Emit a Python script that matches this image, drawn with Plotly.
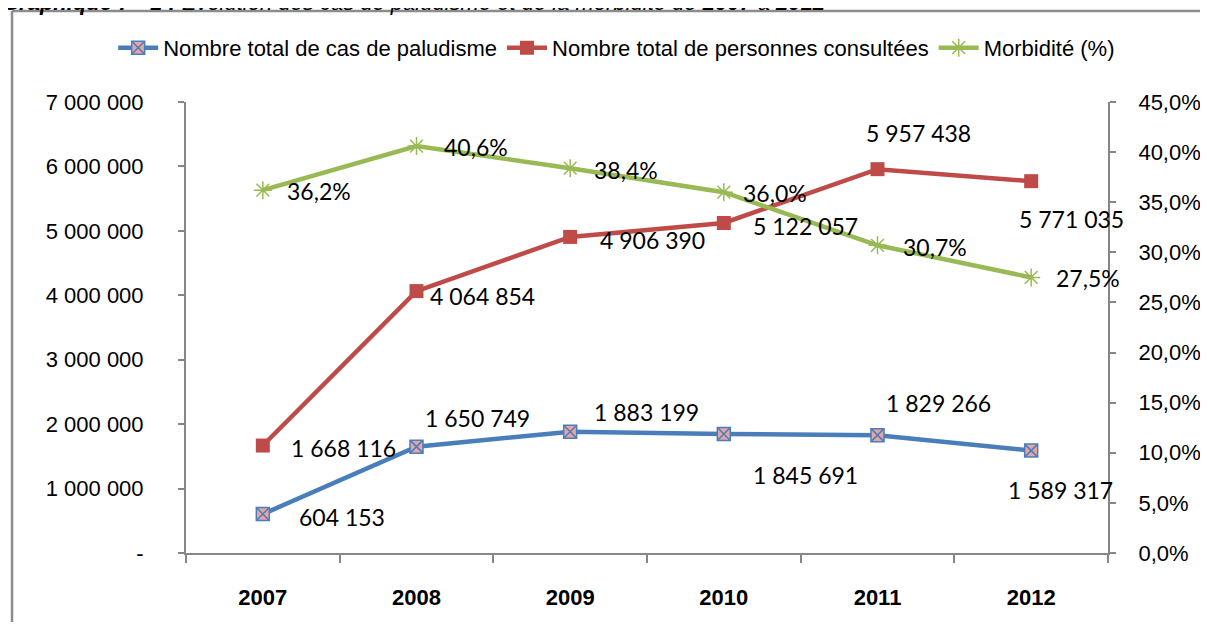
import plotly.graph_objects as go

years = ["2007", "2008", "2009", "2010", "2011", "2012"]
cas_paludisme = [604153, 1650749, 1883199, 1845691, 1829266, 1589317]
personnes_consultees = [1668116, 4064854, 4906390, 5122057, 5957438, 5771035]
morbidite = [36.2, 40.6, 38.4, 36.0, 30.7, 27.5]

left_ticks = [0, 1000000, 2000000, 3000000, 4000000, 5000000, 6000000, 7000000]
right_ticks = [0, 5, 10, 15, 20, 25, 30, 35, 40, 45]

# label offsets (pixels) for each data label
blue_off = [(79, -3), (61, 29), (76, 20), (82, -41), (61, 32), (29, -39)]
red_off = [(81, -2), (66, -5), (82, -3), (82, -3), (41, 36), (40, -38)]
green_off = [(56, -1), (59, -1), (56, -2), (51, -1), (57, -2), (57, -1)]

BLUE = "#4A7EBB"
RED = "#BE4B48"
GREEN = "#98B954"
AXIS = "#868686"
SANS = "Liberation Sans, Arial, sans-serif"
LABEL_FONT = "Lato, Carlito, Calibri, sans-serif"


def fmt_num(v):
    return "-" if v == 0 else f"{v:,}".replace(",", " ")


def fmt_pct(v):
    return f"{v:.1f}%".replace(".", ",")


fig = go.Figure()
fig.add_trace(go.Scatter(
    x=years, y=cas_paludisme, name="Nombre total de cas de paludisme",
    mode="lines+markers", line=dict(color=BLUE, width=4.5),
    marker=dict(symbol="square-x", size=13, color="#E6A5A3",
                line=dict(color=BLUE, width=1.5)),
))
fig.add_trace(go.Scatter(
    x=years, y=personnes_consultees, name="Nombre total de personnes consultées",
    mode="lines+markers", line=dict(color=RED, width=4.5),
    marker=dict(symbol="square", size=14, color=RED),
))
fig.add_trace(go.Scatter(
    x=years, y=morbidite, name="Morbidité (%)", yaxis="y2",
    mode="lines+markers", line=dict(color=GREEN, width=4.5),
    marker=dict(symbol="asterisk-open", size=15, color=GREEN,
                line=dict(color=GREEN, width=1.5)),
))

annotations = []
lab_font = dict(family=LABEL_FONT, size=23, color="black")
for i, yr in enumerate(years):
    annotations.append(dict(x=i, y=cas_paludisme[i], xref="x", yref="y",
                            text=fmt_num(cas_paludisme[i]), showarrow=False,
                            xshift=blue_off[i][0], yshift=blue_off[i][1], font=lab_font))
    annotations.append(dict(x=i, y=personnes_consultees[i], xref="x", yref="y",
                            text=fmt_num(personnes_consultees[i]), showarrow=False,
                            xshift=red_off[i][0], yshift=red_off[i][1], font=lab_font))
    annotations.append(dict(x=i, y=morbidite[i], xref="x", yref="y2",
                            text=fmt_pct(morbidite[i]), showarrow=False,
                            xshift=green_off[i][0], yshift=green_off[i][1], font=lab_font))

annotations.append(dict(
    x=-0.2017, y=1.1885, xref="paper", yref="paper", xanchor="left", yanchor="bottom",
    showarrow=False,
    text="<i><b>Graphique 7 - 1 :</b> Évolution des cas de paludisme et de la morbidité de <b>2007</b> à <b>2012</b></i>",
    font=dict(family=SANS, size=22, color="black"),
))

border = dict(color="#8C8C8C", width=2.5)
fig.update_layout(
    width=1192, height=614,
    margin=dict(l=178, r=92, t=94, b=69, autoexpand=False),
    paper_bgcolor="white", plot_bgcolor="white",
    showlegend=True,
    legend=dict(orientation="h", x=-0.079, xanchor="left", y=1.12, yanchor="middle",
                font=dict(family=SANS, size=22, color="black"),
                itemwidth=40, bgcolor="rgba(0,0,0,0)"),
    xaxis=dict(
        type="category", tickson="boundaries", showgrid=False, range=[-0.5, 5.5],
        showline=True, linecolor=AXIS, linewidth=2,
        ticks="outside", ticklen=8, tickcolor=AXIS, tickwidth=2,
        tickfont=dict(family=SANS, size=22, color="black", weight="bold"),
        ticklabelstandoff=24, tickangle=0,
    ),
    yaxis=dict(
        range=[0, 7000000], tickvals=left_ticks,
        ticktext=[fmt_num(v) for v in left_ticks],
        showgrid=False, zeroline=False,
        showline=True, linecolor=AXIS, linewidth=2,
        ticks="outside", ticklen=6, tickcolor=AXIS, tickwidth=2,
        tickfont=dict(family=SANS, size=22, color="black"),
        ticklabelstandoff=30,
    ),
    yaxis2=dict(
        range=[0, 45], tickvals=right_ticks,
        ticktext=[fmt_pct(v) for v in right_ticks],
        overlaying="y", side="right", showgrid=False, zeroline=False,
        showline=True, linecolor=AXIS, linewidth=2,
        ticks="outside", ticklen=6, tickcolor=AXIS, tickwidth=2,
        tickfont=dict(family=SANS, size=22, color="black"),
        ticklabelstandoff=18,
    ),
    annotations=annotations,
    shapes=[
        dict(type="line", xref="paper", yref="paper", x0=-0.1887, x1=1.3,
             y0=1.2018, y1=1.2018, line=border, layer="below"),
        dict(type="line", xref="paper", yref="paper", x0=-0.1887, x1=-0.1887,
             y0=-0.3, y1=1.2018, line=border, layer="below"),
    ],
)

fig.write_html("out.html")
